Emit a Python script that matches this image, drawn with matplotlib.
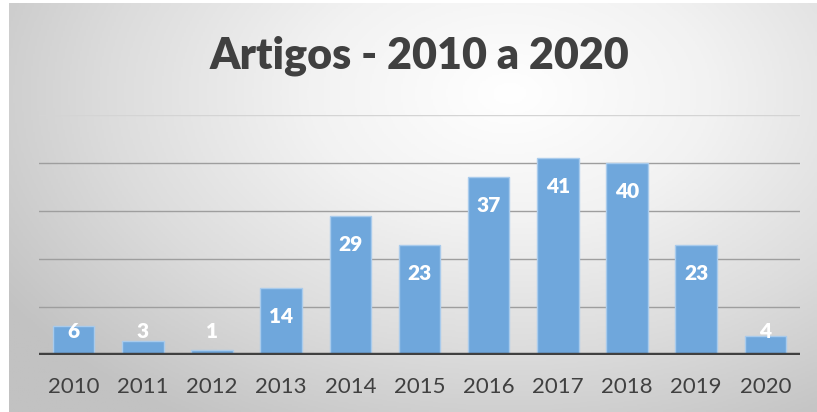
import numpy as np
import matplotlib
matplotlib.use("Agg")
import matplotlib.pyplot as plt
from matplotlib.colors import LinearSegmentedColormap

years = ["2010", "2011", "2012", "2013", "2014", "2015", "2016", "2017", "2018", "2019", "2020"]
articles = [6, 3, 1, 14, 29, 23, 37, 41, 40, 23, 4]
title = "Artigos - 2010 a 2020"

W, H = 817, 412
fig = plt.figure(figsize=(W / 100, H / 100), dpi=100)
fig.patch.set_facecolor("white")

# radial gradient background
bg = fig.add_axes([9 / W, 0, (W - 9) / W, (H - 3) / H])
bg.set_axis_off()
nx, ny = 400, 200
xs = np.linspace(0, 1, nx)
ys = np.linspace(0, 1, ny)
X, Y = np.meshgrid(xs, ys)
cx, cy = 0.62, 0.78
d = np.sqrt(((X - cx) / 0.75) ** 2 + ((Y - cy) / 0.95) ** 2)
d = np.clip(d, 0, 1)
cmap = LinearSegmentedColormap.from_list("g", ["#ffffff", "#f2f2f2", "#dcdcdc", "#c2c2c2"])
bg.imshow(d, cmap=cmap, origin="lower", extent=[0, 1, 0, 1], aspect="auto", vmin=0, vmax=1)
bg.set_xlim(0, 1)
bg.set_ylim(0, 1)

ax = fig.add_axes([39 / W, (H - 355) / H, 761 / W, 240 / H])
ax.set_facecolor("none")
for s in ax.spines.values():
    s.set_visible(False)

x = np.arange(len(years))
ax.bar(x, articles, width=0.6, color="#6fa7dc", edgecolor="#a9cbec", linewidth=1.0, zorder=3)
ax.set_xlim(-0.5, len(years) - 0.5)
ax.set_ylim(0, 50)

for gy in [10, 20, 30, 40]:
    ax.axhline(gy, color="#9e9e9e", linewidth=1.0, zorder=1)
ax.axhline(50, color="#d4d4d4", linewidth=1.0, zorder=1)
ax.axhline(0, color="#404040", linewidth=3.2, zorder=4)

ax.set_yticks([])
ax.set_xticks(x)
ax.set_xticklabels(years, fontsize=16, color="#404040", family="Lato")
ax.tick_params(axis="x", length=0, pad=16)

px = 50 / 240.0  # data units per pixel
for xi, v in zip(x, articles):
    yc = max(v - 28.5 * px, 23.3 * px)
    ax.text(xi, yc, str(v), ha="center", va="center", color="white",
            fontsize=15, fontweight="heavy", family="Lato", zorder=5)

fig.text(419 / W, (H - 69) / H, title, ha="center", va="baseline",
         fontsize=31, fontweight="heavy", color="#404040", family="Lato")

fig.savefig("out.png", dpi=100)
